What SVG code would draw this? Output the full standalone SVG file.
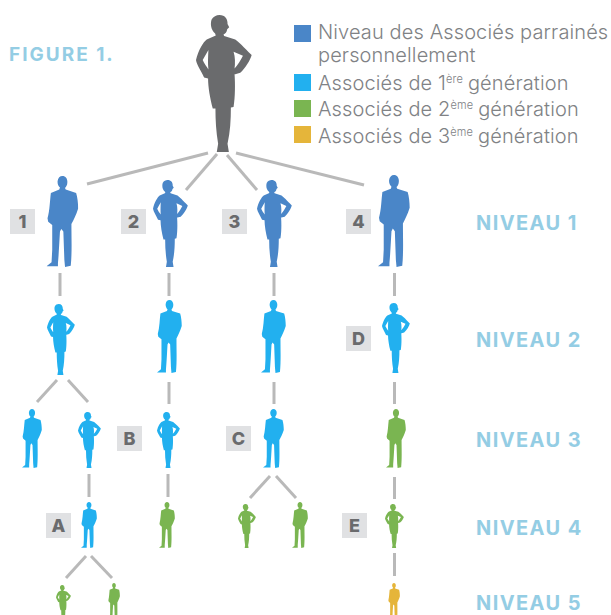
<svg xmlns="http://www.w3.org/2000/svg" xmlns:xlink="http://www.w3.org/1999/xlink" width="611" height="615" viewBox="0 0 611 615">
<style>
.blue{fill:#4a86c8}.cyan{fill:#22b0ef}.green{fill:#7ab551}.yellow{fill:#e5b53a}.dark{fill:#6a6b6d}
.c line{stroke:#b9b9b9;stroke-width:3;fill:none}
.bg{fill:#e0e1e3}
.bt{font:800 18px Inter,"Liberation Sans",sans-serif;fill:#6a6b6d;text-anchor:middle}
.lg{font:300 20px Inter,"Liberation Sans",sans-serif;fill:#808285;letter-spacing:.12px}
.sup{font:300 11px Inter,"Liberation Sans",sans-serif;fill:#808285}
.nv{font:700 20px Inter,"Liberation Sans",sans-serif;fill:#94cde4;letter-spacing:1.4px}
</style>
<defs>
<symbol id="w" viewBox="48 45 167 410" preserveAspectRatio="none"><path fill-rule="evenodd" d="M118,45C135,45 143,58 142,72L147,82L141,88C140,97 135,102 130,103L132,108L165,118C175,125 190,140 214,165C210,180 195,205 180,218L165,222L163,222C165,250 165,290 160,320L152,322C152,360 150,395 142,430L146,455L110,455L114,430C108,395 106,360 106,325L98,325C90,295 84,260 84,235L72,232C65,215 50,195 48,180C55,150 70,125 80,118L107,106L105,100C92,90 90,70 95,58C100,50 108,45 118,45ZM160,155C165,170 165,190 163,205C172,195 182,180 188,167ZM85,150L68,180C72,190 80,200 85,208C83,190 84,170 85,150Z"/></symbol>
<symbol id="m" viewBox="140 47 95 275" preserveAspectRatio="none"><path d="M187,47C197,47 202,55 202,65C202,75 198,80 195,83L197,88L228,98C232,110 234,130 234,145C228,165 220,180 214,192C214,230 216,280 212,318L195,322L193,300L190,215L184,207L180,215C178,250 176,290 174,310L174,320L140,320L155,308L157,270L157,195L145,185L143,175C150,150 150,120 153,98L178,88L180,82C175,78 172,70 173,62C174,53 180,47 187,47Z"/></symbol>
</defs>
<text id="figure-title" x="9" y="61" style="font:700 19px Inter,'Liberation Sans',sans-serif;fill:#94cde4;letter-spacing:2px">FIGURE 1.</text>
<g id="legend">
<rect class="blue" x="294" y="25" width="17" height="17"/><text class="lg" x="318" y="39">Niveau des Associés parrainés</text><text class="lg" x="318" y="62">personnellement</text>
<rect class="cyan" x="294" y="74" width="17" height="17"/><text class="lg" x="318" y="90">Associés de 1<tspan class="sup" dy="-7">ère</tspan><tspan dy="7" dx="5">génération</tspan></text>
<rect class="green" x="294" y="100" width="17" height="17"/><text class="lg" x="318" y="116">Associés de 2<tspan class="sup" dy="-7">ème</tspan><tspan dy="7" dx="5">génération</tspan></text>
<rect class="yellow" x="294" y="126" width="17" height="17"/><text class="lg" x="318" y="143">Associés de 3<tspan class="sup" dy="-7">ème</tspan><tspan dy="7" dx="5">génération</tspan></text>
</g>
<g id="connectors" class="c">
<line x1="87" y1="184" x2="208" y2="153"/><line x1="186" y1="190" x2="217" y2="154"/><line x1="257" y1="190" x2="227" y2="155"/><line x1="364" y1="185" x2="236" y2="153"/>
<line x1="60" y1="273" x2="60" y2="296"/><line x1="169" y1="273" x2="169" y2="296"/><line x1="274" y1="273" x2="274" y2="296"/><line x1="394.500" y1="273" x2="394.500" y2="296"/>
<line x1="57" y1="380" x2="37" y2="402"/><line x1="68" y1="380" x2="88" y2="402"/><line x1="169" y1="382" x2="169" y2="404"/><line x1="274" y1="382" x2="274" y2="404"/><line x1="394.500" y1="382" x2="394.500" y2="404"/>
<line x1="89" y1="474" x2="89" y2="497"/><line x1="168" y1="474" x2="168" y2="497"/><line x1="270" y1="476" x2="250" y2="498"/><line x1="276" y1="476" x2="296" y2="498"/><line x1="394.500" y1="477" x2="394.500" y2="499"/>
<line x1="86" y1="556" x2="66" y2="578"/><line x1="91" y1="556" x2="112" y2="578"/><line x1="394.500" y1="553" x2="394.500" y2="576"/>
</g>
<g id="top" class="dark"><use href="#w" x="196" y="15" width="56" height="137"/></g>
<g id="n1" class="blue"><use href="#m" x="46.500" y="176" width="32" height="91"/><rect class="bg" x="10" y="209" width="25" height="25"/><text class="bt" x="22.500" y="228">1</text></g>
<g id="n2" class="blue"><use href="#w" x="153" y="180" width="35" height="87"/><rect class="bg" x="121" y="209" width="25" height="25"/><text class="bt" x="133.500" y="228">2</text></g>
<g id="n3" class="blue"><use href="#w" x="257" y="180" width="35" height="87"/><rect class="bg" x="222" y="209" width="25" height="25"/><text class="bt" x="234.500" y="228">3</text></g>
<g id="n4" class="blue"><use href="#m" x="378" y="175" width="32" height="92"/><rect class="bg" x="346" y="209" width="25" height="25"/><text class="bt" x="358.500" y="228">4</text></g>
<g id="n5" class="cyan"><use href="#w" x="47" y="304" width="28" height="71"/></g>
<g id="n6" class="cyan"><use href="#m" x="157" y="300" width="25" height="73"/></g>
<g id="n7" class="cyan"><use href="#m" x="261" y="300" width="25" height="73"/></g>
<g id="nD" class="cyan"><use href="#w" x="382" y="303" width="28" height="70"/><rect class="bg" x="346" y="326" width="25" height="25"/><text class="bt" x="358.500" y="345">D</text></g>
<g id="n8" class="cyan"><use href="#m" x="22" y="409" width="20" height="59"/></g>
<g id="n9" class="cyan"><use href="#w" x="78" y="412" width="23" height="56"/></g>
<g id="nB" class="cyan"><use href="#w" x="157" y="412" width="23" height="56"/><rect class="bg" x="117" y="426" width="25" height="25"/><text class="bt" x="129.500" y="445">B</text></g>
<g id="nC" class="cyan"><use href="#m" x="263" y="409" width="21" height="59"/><rect class="bg" x="226" y="426" width="25" height="25"/><text class="bt" x="238.500" y="445">C</text></g>
<g id="n10" class="green"><use href="#m" x="386" y="409" width="20" height="59"/></g>
<g id="nA" class="cyan"><use href="#m" x="81" y="502" width="16" height="46"/><rect class="bg" x="46" y="513" width="25" height="25"/><text class="bt" x="58.500" y="532">A</text></g>
<g id="n11" class="green"><use href="#m" x="159" y="502" width="16" height="46"/></g>
<g id="n12" class="green"><use href="#w" x="238" y="504" width="18" height="44"/></g>
<g id="n13" class="green"><use href="#m" x="292" y="502" width="16" height="46"/></g>
<g id="nE" class="green"><use href="#w" x="385" y="504" width="19" height="44"/><rect class="bg" x="342" y="513" width="25" height="25"/><text class="bt" x="354.500" y="532">E</text></g>
<g id="n14" class="green"><use href="#w" x="56" y="585" width="15" height="37"/></g>
<g id="n15" class="green"><use href="#m" x="108" y="583" width="12" height="37"/></g>
<g id="n16" class="yellow"><use href="#m" x="388" y="583" width="12" height="37"/></g>
<g id="levels">
<text class="nv" x="476" y="230">NIVEAU 1</text><text class="nv" x="476" y="347">NIVEAU 2</text><text class="nv" x="476" y="447">NIVEAU 3</text><text class="nv" x="476" y="535">NIVEAU 4</text><text class="nv" x="476" y="610">NIVEAU 5</text>
</g>
</svg>
